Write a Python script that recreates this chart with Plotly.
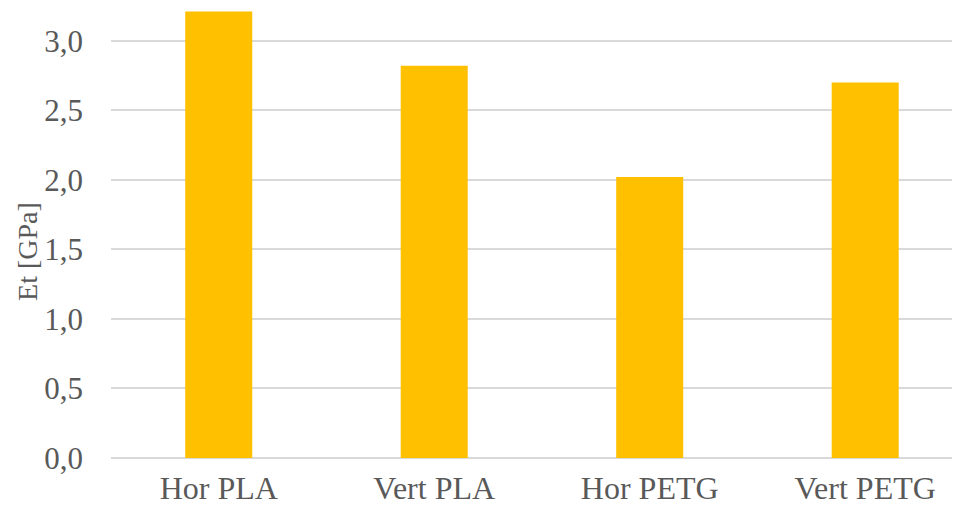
import plotly.graph_objects as go

categories = ["Hor PLA", "Vert PLA", "Hor PETG", "Vert PETG"]
et_gpa = [3.21, 2.82, 2.02, 2.70]
y_ticks = [0.0, 0.5, 1.0, 1.5, 2.0, 2.5, 3.0]
y_tick_labels = ["0,0", "0,5", "1,0", "1,5", "2,0", "2,5", "3,0"]
y_title = "Et [GPa]"

font_family = "Liberation Serif"
text_color = "#595959"

fig = go.Figure(
    go.Bar(
        x=categories,
        y=et_gpa,
        marker=dict(color="#FFC000", line=dict(width=0)),
        hoverinfo="skip",
        cliponaxis=False,
    )
)

# the page body has an 8px margin, so the figure is sized 8px smaller
fig.update_layout(
    width=952,
    height=503,
    margin=dict(l=103, r=0, t=0, b=53),
    paper_bgcolor="white",
    plot_bgcolor="white",
    bargap=0.689,
    showlegend=False,
    font=dict(family=font_family, color=text_color, size=30),
    annotations=[
        dict(
            text=y_title,
            textangle=-90,
            xref="paper",
            yref="paper",
            x=-0.099,
            y=0.46,
            xanchor="center",
            yanchor="middle",
            showarrow=False,
            font=dict(family=font_family, size=28, color=text_color),
        )
    ],
)

fig.update_xaxes(
    type="category",
    range=[-0.5, 3.44],
    automargin=False,
    showgrid=False,
    showline=False,
    zeroline=False,
    ticks="",
    tickfont=dict(family=font_family, size=32, color=text_color),
    ticklabelstandoff=8,
)

fig.update_yaxes(
    range=[0, 3.235],
    automargin=False,
    tickvals=y_ticks,
    ticktext=y_tick_labels,
    showgrid=True,
    gridcolor="#D9D9D9",
    gridwidth=1.5,
    zeroline=True,
    zerolinecolor="#D9D9D9",
    zerolinewidth=1.5,
    showline=False,
    ticks="",
    tickfont=dict(family=font_family, size=31, color=text_color),
    ticklabelstandoff=27,
)

fig.write_html("out.html")
